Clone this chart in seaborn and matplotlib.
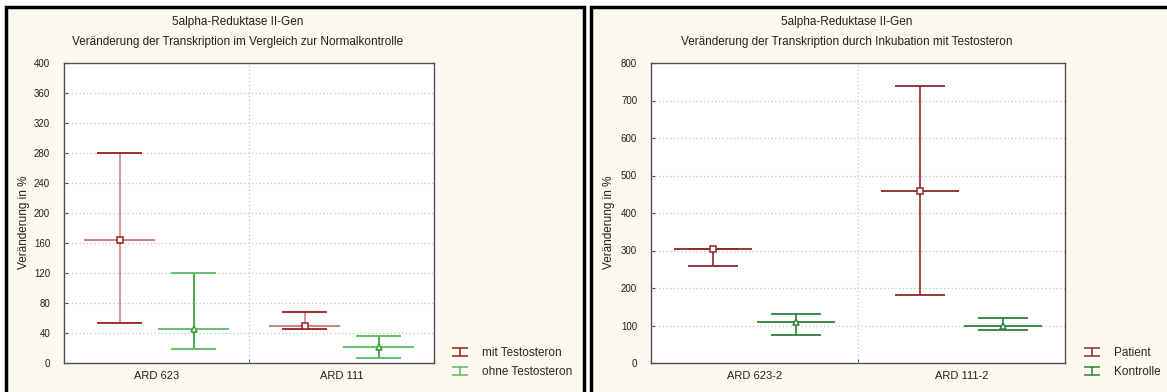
import numpy as np
import pandas as pd
import matplotlib
matplotlib.use("Agg")
import matplotlib.pyplot as plt
import seaborn as sns
from matplotlib import font_manager
from matplotlib.patches import Rectangle
from matplotlib.path import Path
from matplotlib.lines import Line2D

# ---------------- data ----------------
left_categories = ["ARD 623", "ARD 111"]
left_groups = ["mit Testosteron", "ohne Testosteron"]
left_mit_mean = [164, 50]
left_mit_low = [54, 46]
left_mit_high = [280, 68]
left_ohne_mean = [46, 22]
left_ohne_low = [19, 7]
left_ohne_high = [120, 36]
left_yticks = [0, 40, 80, 120, 160, 200, 240, 280, 320, 360, 400]

right_categories = ["ARD 623-2", "ARD 111-2"]
right_groups = ["Patient", "Kontrolle"]
right_pat_mean = [303, 460]
right_pat_low = [260, 182]
right_pat_high = [304, 738]
right_kon_mean = [110, 98]
right_kon_low = [74, 87]
right_kon_high = [130, 119]
right_yticks = [0, 100, 200, 300, 400, 500, 600, 700, 800]

left_title = "5alpha-Reduktase II-Gen"
left_subtitle = "Veränderung der Transkription im Vergleich zur Normalkontrolle"
right_title = "5alpha-Reduktase II-Gen"
right_subtitle = "Veränderung der Transkription durch Inkubation mit Testosteron"
ylabel = "Veränderung in %"

# ---------------- style ----------------
sns.set_style("white")
plt.rcParams["font.family"] = ["Liberation Sans", "DejaVu Sans"]
plt.rcParams["font.size"] = 8

available = {f.name for f in font_manager.fontManager.ttflist}
if "Liberation Sans Narrow" in available:
    TICK_FAMILY, TICK_SIZE = "Liberation Sans Narrow", 7.6
else:
    TICK_FAMILY, TICK_SIZE = "Liberation Sans", 7.0

W, H = 1167, 392
fig = plt.figure(figsize=(W / 100, H / 100), dpi=100, facecolor="white")

CREAM = "#FEF9EE"
TXT = "#202020"

def px_rect(x0, y0_top, x1, y1_top):
    return [x0 / W, 1 - y1_top / H, (x1 - x0) / W, (y1_top - y0_top) / H]

# panel frames
for (x0, x1) in [(6, 584), (591, 1180)]:
    r = px_rect(x0, 7, x1, 410)
    fig.add_artist(Rectangle((r[0], r[1]), r[2], r[3], transform=fig.transFigure,
                             facecolor=CREAM, edgecolor="black", lw=2.5, zorder=0))

ibeam = Path([(-1, 0.5), (1, 0.5), (0, 0.5), (0, -0.5), (-1, -0.5), (1, -0.5)],
             [Path.MOVETO, Path.LINETO, Path.MOVETO, Path.LINETO, Path.MOVETO, Path.LINETO])


def draw_panel(ax_rect, cats, groups, means, lows, highs, yticks, colors, title, subtitle,
               title_x, ylabel_coords, legend_anchor):
    ax = fig.add_axes(ax_rect)
    ax.set_facecolor("white")
    rows = []
    for g, m, lo, hi in zip(groups, means, lows, highs):
        for c, mv, lv, hv in zip(cats, m, lo, hi):
            rows.append(dict(cat=c, group=g, mean=mv, low=lv, high=hv))
    df = pd.DataFrame(rows)

    markers = ["s", "^"]
    pal = {g: colors[g]["cap"] for g in groups}
    sns.pointplot(data=df, x="cat", y="mean", hue="group", order=cats, hue_order=groups,
                  dodge=0.4, linestyle="none", markers=markers, palette=pal,
                  errorbar=None, legend=False, ax=ax)
    for ln, g in zip(ax.lines, groups):
        ln.set_markerfacecolor("white")
        ln.set_markeredgecolor(colors[g]["marker"])
        ln.set_markersize(4.6 if ln.get_marker() == "s" else 4.2)
        ln.set_markeredgewidth(1.1)
        ln.set_zorder(5)

    n = len(groups)
    dodge = 0.4
    for gi, g in enumerate(groups):
        sub = df[df.group == g].set_index("cat").loc[cats]
        xs = np.arange(len(cats)) - dodge / 2 + gi * dodge / (n - 1)
        col = colors[g]
        ax.vlines(xs, sub["low"], sub["high"], color=col["stem"], lw=1.2, zorder=3)
        ax.hlines(sub["high"], xs - 0.12, xs + 0.12, color=col["cap"], lw=1.3, zorder=3)
        ax.hlines(sub["low"], xs - 0.12, xs + 0.12, color=col["cap"], lw=1.3, zorder=3)
        ax.hlines(sub["mean"], xs - 0.19, xs + 0.19, color=col["meanline"], lw=1.3, zorder=3)

    ax.set_xlim(-0.5, len(cats) - 0.5)
    ax.set_ylim(yticks[0], yticks[-1])
    ax.set_yticks(yticks)
    ax.set_xticks(range(len(cats)))
    ax.set_xticklabels(cats)
    ax.set_xticks([0.5], minor=True)
    ax.set_xlabel("")
    ax.set_ylabel(ylabel, fontsize=8.5, color=TXT)
    ax.yaxis.set_label_coords(*ylabel_coords)
    ax.grid(False)
    for yt in yticks[1:-1]:
        ax.axhline(yt, color="#c4c4c4", lw=0.9, ls=(0, (1, 2)), zorder=1)
    ax.axvline(0.5, color="#c4c4c4", lw=0.9, ls=(0, (1, 2)), zorder=1)
    ax.tick_params(axis="y", which="major", direction="in", length=3, pad=10,
                   labelsize=TICK_SIZE, color="#404040", labelcolor=TXT, left=True)
    for lab in ax.get_yticklabels():
        lab.set_family([TICK_FAMILY, "DejaVu Sans"])
    ax.tick_params(axis="x", which="major", length=0, pad=6, labelsize=8, labelcolor=TXT)
    ax.tick_params(axis="x", which="minor", direction="in", length=3, color="#404040", bottom=True)
    for s in ax.spines.values():
        s.set_visible(True)
        s.set_color("#505050")
        s.set_linewidth(1.0)

    fig.text(title_x / W, 1 - 22 / H, title, ha="center", va="center", fontsize=8.5, color=TXT)
    fig.text(title_x / W, 1 - 41.5 / H, subtitle, ha="center", va="center", fontsize=8.5, color=TXT)

    handles = [Line2D([], [], marker=ibeam, linestyle="none", markersize=11,
                      markeredgecolor=colors[g]["cap"], markerfacecolor="none",
                      markeredgewidth=1.1) for g in groups]
    ax.legend(handles, groups, loc="center left", bbox_to_anchor=legend_anchor,
              bbox_transform=fig.transFigure, frameon=False, fontsize=8.5,
              handlelength=1.4, handletextpad=1.1, labelspacing=0.58,
              borderpad=0, borderaxespad=0)
    return ax


left_colors = {
    "mit Testosteron": dict(cap="#9B1E1E", stem="#C48888", meanline="#C47878", marker="#9B1E1E"),
    "ohne Testosteron": dict(cap="#5BBB60", stem="#2E9B34", meanline="#5BBB60", marker="#2E9B34"),
}
right_colors = {
    "Patient": dict(cap="#8E2A2E", stem="#8E2A2E", meanline="#8E2A2E", marker="#8E2A2E"),
    "Kontrolle": dict(cap="#2E8038", stem="#2E8038", meanline="#2E8038", marker="#2E8038"),
}

draw_panel(px_rect(64, 63, 434, 363), left_categories, left_groups,
           [left_mit_mean, left_ohne_mean], [left_mit_low, left_ohne_low],
           [left_mit_high, left_ohne_high], left_yticks, left_colors,
           left_title, left_subtitle, 238, (-0.093, 0.47),
           (452 / W, 1 - 362.5 / H))

draw_panel(px_rect(651, 63, 1065, 363), right_categories, right_groups,
           [right_pat_mean, right_kon_mean], [right_pat_low, right_kon_low],
           [right_pat_high, right_kon_high], right_yticks, right_colors,
           right_title, right_subtitle, 847, (-0.086, 0.47),
           (1084 / W, 1 - 362.5 / H))

fig.savefig("out.png", dpi=100, facecolor="white")
